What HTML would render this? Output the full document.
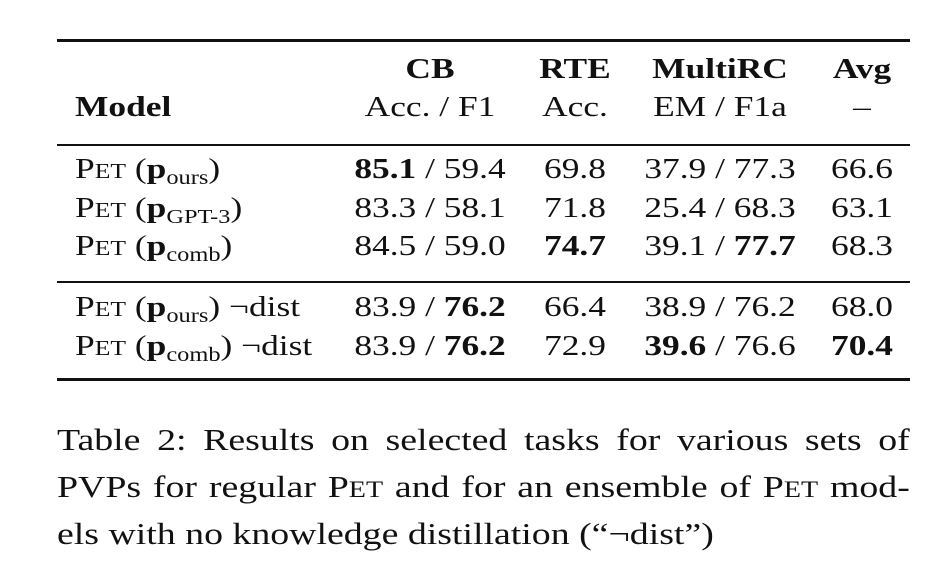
<!DOCTYPE html>
<html><head><meta charset="utf-8"><style>
body{margin:0;width:938px;height:568px;background:#fff;position:relative;font-family:"Liberation Serif",serif;color:#111;overflow:hidden}
.r{position:absolute;left:57px;width:853px;background:#111}
.t{position:absolute;font-size:29px;line-height:34px;white-space:nowrap;transform:scaleX(1.22);transform-origin:left center}
.c{transform:translateX(-50%) scaleX(1.22);transform-origin:center center}
b{font-weight:bold}
.sc{font-size:21px}
.sub{font-size:20px;position:relative;top:6px}
.cap{position:absolute;left:57px;width:699px;font-size:31px;line-height:34px;text-align:justify;text-align-last:justify;white-space:nowrap;transform:scaleX(1.22);transform-origin:left center}
</style></head><body>
<div class="r" style="top:39px;height:3px"></div>
<div class="r" style="top:144px;height:2px"></div>
<div class="r" style="top:281px;height:2px"></div>
<div class="r" style="top:378px;height:3px"></div>

<div class="t c" style="left:430px;top:52px"><b>CB</b></div>
<div class="t c" style="left:575px;top:52px"><b>RTE</b></div>
<div class="t c" style="left:720px;top:52px"><b>MultiRC</b></div>
<div class="t c" style="left:862px;top:52px"><b>Avg</b></div>
<div class="t" style="left:75px;top:90px"><b>Model</b></div>
<div class="t c" style="left:430px;top:90px">Acc. / F1</div>
<div class="t c" style="left:575px;top:90px">Acc.</div>
<div class="t c" style="left:720px;top:90px">EM / F1a</div>
<div class="t c" style="left:862px;top:90px">–</div>

<div>
<div class="t" style="left:75px;top:152px">P<span class="sc">ET</span> (<b>p</b><span class="sub">ours</span>)</div>
<div class="t c" style="left:430px;top:152px"><b>85.1</b> / 59.4</div>
<div class="t c" style="left:575px;top:152px">69.8</div>
<div class="t c" style="left:720px;top:152px">37.9 / 77.3</div>
<div class="t c" style="left:862px;top:152px">66.6</div>
</div>
<div>
<div class="t" style="left:75px;top:191px">P<span class="sc">ET</span> (<b>p</b><span class="sub">GPT-3</span>)</div>
<div class="t c" style="left:430px;top:191px">83.3 / 58.1</div>
<div class="t c" style="left:575px;top:191px">71.8</div>
<div class="t c" style="left:720px;top:191px">25.4 / 68.3</div>
<div class="t c" style="left:862px;top:191px">63.1</div>
</div>
<div>
<div class="t" style="left:75px;top:229px">P<span class="sc">ET</span> (<b>p</b><span class="sub">comb</span>)</div>
<div class="t c" style="left:430px;top:229px">84.5 / 59.0</div>
<div class="t c" style="left:575px;top:229px"><b>74.7</b></div>
<div class="t c" style="left:720px;top:229px">39.1 / <b>77.7</b></div>
<div class="t c" style="left:862px;top:229px">68.3</div>
</div>
<div>
<div class="t" style="left:75px;top:290px">P<span class="sc">ET</span> (<b>p</b><span class="sub">ours</span>) ¬dist</div>
<div class="t c" style="left:430px;top:290px">83.9 / <b>76.2</b></div>
<div class="t c" style="left:575px;top:290px">66.4</div>
<div class="t c" style="left:720px;top:290px">38.9 / 76.2</div>
<div class="t c" style="left:862px;top:290px">68.0</div>
</div>
<div>
<div class="t" style="left:75px;top:329px">P<span class="sc">ET</span> (<b>p</b><span class="sub">comb</span>) ¬dist</div>
<div class="t c" style="left:430px;top:329px">83.9 / <b>76.2</b></div>
<div class="t c" style="left:575px;top:329px">72.9</div>
<div class="t c" style="left:720px;top:329px"><b>39.6</b> / 76.6</div>
<div class="t c" style="left:862px;top:329px"><b>70.4</b></div>
</div>

<div class="cap" style="top:423px">Table 2: Results on selected tasks for various sets of</div>
<div class="cap" style="top:470px">PVPs for regular P<span style="font-size:23px">ET</span> and for an ensemble of P<span style="font-size:23px">ET</span> mod-</div>
<div class="cap" style="top:517px;text-align:left;text-align-last:left">els with no knowledge distillation (“¬dist”)</div>
</body></html>
